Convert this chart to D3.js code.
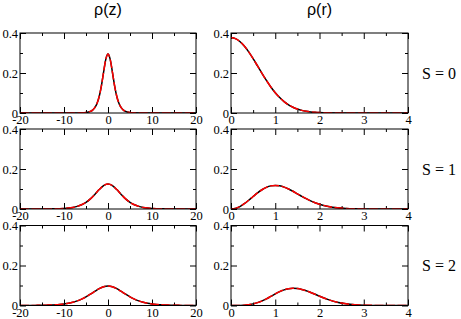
<!DOCTYPE html>
<html>
<head>
<meta charset="utf-8">
<script src="https://cdn.jsdelivr.net/npm/d3@7"></script>
<style>
  html, body { margin: 0; padding: 0; background: #fff; }
  svg { display: block; }
  .serif { font-family: "Liberation Serif", "Times New Roman", Times, serif; }
  .sans { font-family: "Liberation Sans", Arial, Helvetica, sans-serif; }
</style>
</head>
<body>
<svg id="chart" width="461" height="319"></svg>
<script>
// ---- data ----
const columnTitles = ["\u03c1(z)", "\u03c1(r)"];
const rowLabels = ["S = 0", "S = 1", "S = 2"];

const zTicks = [-20, -10, 0, 10, 20];
const zTickLabels = ["-20", "-10", "0", "10", "20"];
const zMinorTicks = [-15, -5, 5, 15];
const rTicks = [0, 1, 2, 3, 4];
const rTickLabels = ["0", "1", "2", "3", "4"];
const rMinorTicks = [0.5, 1.5, 2.5, 3.5];
const yTicks = [0, 0.2, 0.4];
const yMinorTicks = [0.1, 0.3];
const yTickLabels = ["0", "0.2", "0.4"];

// rho(z), S = 0
const zS0 = [-20, -10, -8, -7, -6, -5, -4, -3.5, -3, -2.5, -2, -1.5, -1, -0.5, 0,
             0.5, 1, 1.5, 2, 2.5, 3, 3.5, 4, 5, 6, 7, 8, 10, 20];
const rhoZS0 = [0, 0, 0.0001, 0.0002, 0.0007, 0.0023, 0.0079, 0.0145, 0.0265, 0.0476, 0.0827, 0.1360, 0.2043, 0.2680, 0.295,
                0.2680, 0.2043, 0.1360, 0.0827, 0.0476, 0.0265, 0.0145, 0.0079, 0.0023, 0.0007, 0.0002, 0.0001, 0, 0];

// z grid for S = 1, 2
const zGrid = [-20, -19, -18, -17, -16, -15, -14, -13, -12, -11, -10, -9, -8, -7, -6, -5, -4, -3, -2, -1, 0,
               1, 2, 3, 4, 5, 6, 7, 8, 9, 10, 11, 12, 13, 14, 15, 16, 17, 18, 19, 20];
const rhoZS1 = [0, 0, 0, 0, 0.0001, 0.0002, 0.0004, 0.0006, 0.0011, 0.0018, 0.0029, 0.0049, 0.0080, 0.0131, 0.0211, 0.0332, 0.0505, 0.0727, 0.0971, 0.1171, 0.125,
                0.1171, 0.0971, 0.0727, 0.0505, 0.0332, 0.0211, 0.0131, 0.0080, 0.0049, 0.0029, 0.0018, 0.0011, 0.0006, 0.0004, 0.0002, 0.0001, 0, 0, 0, 0];
const rhoZS2 = [0.0002, 0.0003, 0.0004, 0.0005, 0.0008, 0.0012, 0.0018, 0.0026, 0.0038, 0.0055, 0.0079, 0.0114, 0.0163, 0.0231, 0.0320, 0.0432, 0.0564, 0.0707, 0.0840, 0.0935, 0.097,
                0.0935, 0.0840, 0.0707, 0.0564, 0.0432, 0.0320, 0.0231, 0.0163, 0.0114, 0.0079, 0.0055, 0.0038, 0.0026, 0.0018, 0.0012, 0.0008, 0.0005, 0.0004, 0.0003, 0.0002];

// rho(r)
const rS0 = [0, 0.1, 0.2, 0.3, 0.4, 0.5, 0.6, 0.7, 0.8, 0.9, 1.0, 1.1, 1.2, 1.3, 1.4, 1.5, 1.6, 1.7, 1.8, 1.9, 2.0, 2.2, 2.4, 2.6, 3, 4];
const rhoRS0 = [0.377, 0.372, 0.3577, 0.335, 0.3056, 0.2716, 0.2351, 0.1982, 0.1628, 0.1302, 0.1015, 0.0771, 0.0569, 0.041, 0.0288, 0.0197, 0.0131, 0.0085, 0.0054, 0.0033, 0.002, 0.0007, 0.0002, 0, 0, 0];

const rS1 = [0, 0.1, 0.2, 0.3, 0.4, 0.5, 0.6, 0.7, 0.8, 0.9, 1.0, 1.1, 1.2, 1.3, 1.4, 1.5, 1.6, 1.7, 1.8, 1.9, 2.0, 2.2, 2.4, 2.6, 2.8, 3.0, 3.2, 3.4, 4];
const rhoRS1 = [0, 0.0032, 0.0123, 0.0264, 0.0437, 0.0624, 0.0806, 0.0963, 0.1082, 0.1156, 0.118, 0.1157, 0.1094, 0.1, 0.0886, 0.0761, 0.0635, 0.0515, 0.0407, 0.0313, 0.0235, 0.0123, 0.0058, 0.0025, 0.001, 0.0004, 0.0001, 0, 0];

const rS2 = [0, 0.2, 0.4, 0.6, 0.8, 0.9, 1.0, 1.1, 1.2, 1.3, 1.4, 1.5, 1.6, 1.7, 1.8, 1.9, 2.0, 2.2, 2.4, 2.6, 2.8, 3.0, 3.2, 3.4, 3.6, 4];
const rhoRS2 = [0, 0.0002, 0.0035, 0.0144, 0.0330, 0.0455, 0.0580, 0.0694, 0.0781, 0.0837, 0.086, 0.0848, 0.0805, 0.0738, 0.0653, 0.056, 0.0466, 0.0294, 0.0166, 0.0084, 0.0038, 0.0016, 0.0006, 0.0002, 0, 0];

// ---- layout ----
const colLeft = [20, 231];
const colWidth = [176, 177];
const rowTop = [33, 129, 225.5];
const panelH = 80;

const panels = [
  { row: 0, col: 0, x: zS0, y: rhoZS0 },
  { row: 0, col: 1, x: rS0, y: rhoRS0 },
  { row: 1, col: 0, x: zGrid, y: rhoZS1 },
  { row: 1, col: 1, x: rS1, y: rhoRS1 },
  { row: 2, col: 0, x: zGrid, y: rhoZS2 },
  { row: 2, col: 1, x: rS2, y: rhoRS2 }
];

const svg = d3.select("#chart");

function styleAxis(g, labels) {
  g.attr("font-family", null).attr("font-size", null).attr("class", "serif");
  g.selectAll(".domain").remove();
  g.selectAll(".tick line").attr("stroke", "#000").attr("stroke-width", 1);
  g.selectAll(".tick text")
    .attr("fill", "#000")
    .attr("class", "serif")
    .attr("font-size", 12.5);
  if (!labels) g.selectAll(".tick text").remove();
}

panels.forEach((p, i) => {
  const w = colWidth[p.col];
  const g = svg.append("g").attr("transform", `translate(${colLeft[p.col]},${rowTop[p.row]})`);
  const x = d3.scaleLinear().domain(p.col === 0 ? [-20, 20] : [0, 4]).range([0, w]);
  const y = d3.scaleLinear().domain([0, 0.4]).range([panelH, 0]);
  const majors = p.col === 0 ? zTicks : rTicks;
  const majorLabels = p.col === 0 ? zTickLabels : rTickLabels;
  const minors = p.col === 0 ? zMinorTicks : rMinorTicks;

  // bottom axis (labels)
  g.append("g").attr("transform", `translate(0,${panelH})`)
    .call(d3.axisBottom(x).tickValues(majors).tickSizeInner(-6).tickSizeOuter(0).tickPadding(2.5)
      .tickFormat((d, k) => majorLabels[k]))
    .call(s => styleAxis(s, true));
  g.append("g").attr("transform", `translate(0,${panelH})`)
    .call(d3.axisBottom(x).tickValues(minors).tickSizeInner(-3).tickSizeOuter(0).tickFormat(""))
    .call(s => styleAxis(s, false));
  // top axis
  g.append("g")
    .call(d3.axisTop(x).tickValues(majors).tickSizeInner(-6).tickSizeOuter(0).tickFormat(""))
    .call(s => styleAxis(s, false));
  g.append("g")
    .call(d3.axisTop(x).tickValues(minors).tickSizeInner(-3).tickSizeOuter(0).tickFormat(""))
    .call(s => styleAxis(s, false));
  // left axis (labels)
  g.append("g")
    .call(d3.axisLeft(y).tickValues(yTicks).tickSizeInner(-6).tickSizeOuter(0).tickPadding(2)
      .tickFormat((d, k) => yTickLabels[k]))
    .call(s => styleAxis(s, true));
  g.append("g")
    .call(d3.axisLeft(y).tickValues(yMinorTicks).tickSizeInner(-3).tickSizeOuter(0).tickFormat(""))
    .call(s => styleAxis(s, false));
  // right axis
  g.append("g").attr("transform", `translate(${w},0)`)
    .call(d3.axisRight(y).tickValues(yTicks).tickSizeInner(-6).tickSizeOuter(0).tickFormat(""))
    .call(s => styleAxis(s, false));
  g.append("g").attr("transform", `translate(${w},0)`)
    .call(d3.axisRight(y).tickValues(yMinorTicks).tickSizeInner(-3).tickSizeOuter(0).tickFormat(""))
    .call(s => styleAxis(s, false));

  // clip
  const cid = "clip" + i;
  g.append("clipPath").attr("id", cid).append("rect")
    .attr("x", 0).attr("y", -1).attr("width", w).attr("height", panelH + 1);

  const pts = p.x.map((v, k) => [v, p.y[k]]);
  const line = d3.line().x(d => x(d[0])).y(d => y(d[1])).curve(d3.curveMonotoneX);

  g.append("path").attr("clip-path", `url(#${cid})`)
    .attr("d", line(pts)).attr("fill", "none")
    .attr("stroke", "#000").attr("stroke-width", 1.5);
  g.append("path").attr("clip-path", `url(#${cid})`)
    .attr("d", line(pts)).attr("fill", "none")
    .attr("stroke", "#ff0000").attr("stroke-width", 1.5)
    .attr("stroke-dasharray", "9,2.5");

  // frame
  g.append("rect").attr("x", 0).attr("y", 0).attr("width", w).attr("height", panelH)
    .attr("fill", "none").attr("stroke", "#000").attr("stroke-width", 1);
});

// column titles
columnTitles.forEach((t, c) => {
  svg.append("text")
    .attr("class", "sans")
    .attr("x", colLeft[c] + colWidth[c] / 2)
    .attr("y", 15)
    .attr("text-anchor", "middle")
    .attr("font-size", 16)
    .attr("fill", "#000")
    .text(t);
});

// row labels
rowLabels.forEach((t, r) => {
  svg.append("text")
    .attr("class", "serif")
    .attr("x", 422)
    .attr("y", rowTop[r] + panelH / 2 + 5.5)
    .attr("text-anchor", "start")
    .attr("font-size", 16)
    .attr("fill", "#000")
    .text(t);
});
</script>
</body>
</html>
